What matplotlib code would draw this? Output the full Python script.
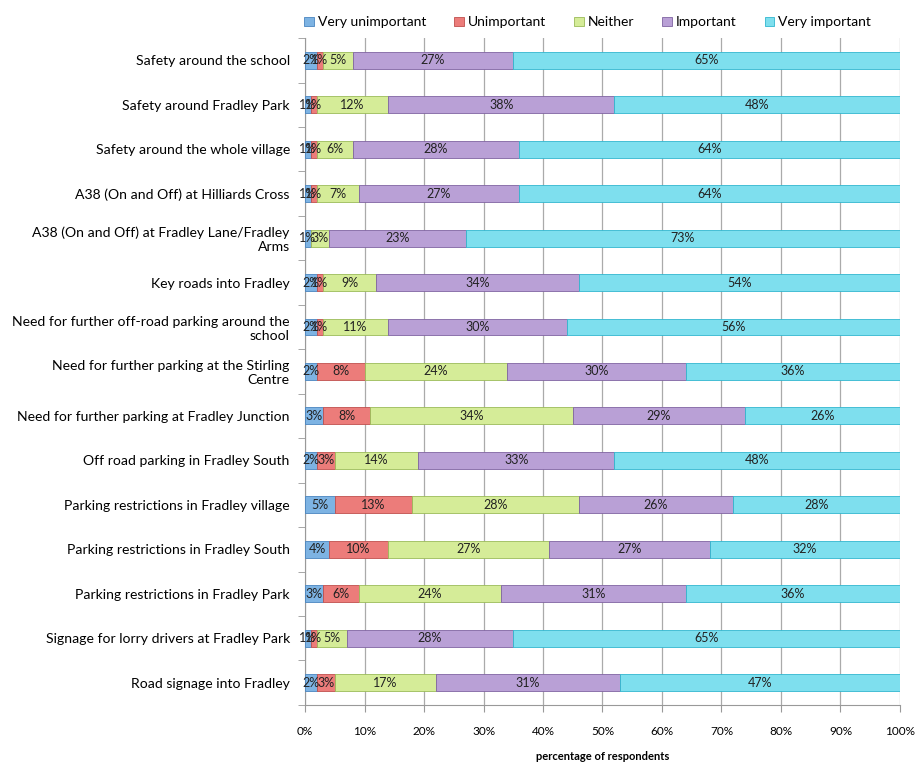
import matplotlib.pyplot as plt
import numpy as np

categories = [
    "Safety around the school",
    "Safety around Fradley Park",
    "Safety around the whole village",
    "A38 (On and Off) at Hilliards Cross",
    "A38 (On and Off) at Fradley Lane/Fradley\nArms",
    "Key roads into Fradley",
    "Need for further off-road parking around the\nschool",
    "Need for further parking at the Stirling\nCentre",
    "Need for further parking at Fradley Junction",
    "Off road parking in Fradley South",
    "Parking restrictions in Fradley village",
    "Parking restrictions in Fradley South",
    "Parking restrictions in Fradley Park",
    "Signage for lorry drivers at Fradley Park",
    "Road signage into Fradley",
]

series_names = ["Very unimportant", "Unimportant", "Neither", "Important", "Very important"]

very_unimportant = [2, 1, 1, 1, 1, 2, 2, 2, 3, 2, 5, 4, 3, 1, 2]
unimportant = [1, 1, 1, 1, 0, 1, 1, 8, 8, 3, 13, 10, 6, 1, 3]
neither = [5, 12, 6, 7, 3, 9, 11, 24, 34, 14, 28, 27, 24, 5, 17]
important = [27, 38, 28, 27, 23, 34, 30, 30, 29, 33, 26, 27, 31, 28, 31]
very_important = [65, 48, 64, 64, 73, 54, 56, 36, 26, 48, 28, 32, 36, 65, 47]

colors = ["#7db3e3", "#ec7c7a", "#d5ec98", "#b9a0d6", "#7edfee"]
edges = ["#4a85c0", "#c0504d", "#9bbb59", "#8064a2", "#31b6cf"]

plt.rcParams['font.family'] = ['Lato', 'DejaVu Sans']

fig = plt.figure(figsize=(9.16, 7.62), dpi=100)
ax = fig.add_axes([0.333, 0.075, 0.6495, 0.875])

data = [very_unimportant, unimportant, neither, important, very_important]
y = np.arange(len(categories))
left = np.zeros(len(categories))
for name, vals, c, ec in zip(series_names, data, colors, edges):
    vals = np.array(vals, dtype=float)
    ax.barh(y, vals, left=left, height=0.38, color=c, edgecolor=ec,
            linewidth=0.6, label=name, zorder=3)
    for yi, l, v in zip(y, left, vals):
        if v > 0:
            ax.text(l + v / 2, yi, f"{int(v)}%", ha='center', va='center',
                    fontsize=9, color='#222222', zorder=4)
    left += vals

ax.set_xlim(0, 100)
ax.set_ylim(len(categories) - 0.5, -0.5)
ax.set_xticks(range(0, 101, 10))
ax.set_xticklabels([f"{t}%" for t in range(0, 101, 10)], fontsize=8.5)
ax.set_yticks(y)
ax.set_yticklabels(categories, fontsize=10.1)
ax.tick_params(axis='y', length=0, pad=11)
ax.set_yticks(np.arange(-0.5, len(categories), 1), minor=True)
ax.tick_params(axis='y', which='minor', length=5, color='#999999')
ax.tick_params(axis='x', length=5, color='#999999', pad=10)
ax.xaxis.grid(True, color='#aaaaaa', linewidth=0.9, zorder=0)
for s in ['top', 'right']:
    ax.spines[s].set_visible(False)
for s in ['left', 'bottom']:
    ax.spines[s].set_color('#999999')

for lab in ax.get_yticklabels():
    lab.set_multialignment('right')

ax.set_xlabel("percentage of respondents", fontsize=8, fontweight='bold', labelpad=10)

ax.legend(loc='lower center', bbox_to_anchor=(0.475, 1.0), ncol=5, frameon=False,
          fontsize=10, handlelength=0.7, handleheight=0.7, handletextpad=0.3,
          columnspacing=2.0, borderaxespad=0.3)

plt.savefig("out.png", dpi=100)
